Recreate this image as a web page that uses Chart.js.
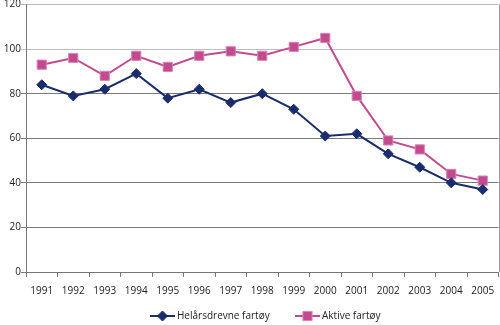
<!DOCTYPE html>
<html>
<head>
<meta charset="utf-8">
<script src="https://cdn.jsdelivr.net/npm/chart.js@4.4.1/dist/chart.umd.min.js"></script>
<style>
  html, body { margin: 0; padding: 0; background: #fff; }
  #frame { width: 500px; height: 325px; position: relative; overflow: hidden; }
  #wrap { width: 506px; height: 327px; position: absolute; left: 0; top: -3px; }
</style>
</head>
<body>
<div id="frame"><div id="wrap"><canvas id="chart"></canvas></div></div>
<script>
const years = ["1991", "1992", "1993", "1994", "1995", "1996", "1997", "1998", "1999", "2000", "2001", "2002", "2003", "2004", "2005"]
const helarsdrevne = [84, 79, 82, 89, 78, 82, 76, 80, 73, 61, 62, 53, 47, 40, 37]
const aktive = [93, 96, 88, 97, 92, 97, 99, 97, 101, 105, 79, 59, 55, 44, 41]
const yTicks = [0, 20, 40, 60, 80, 100, 120]

const FONT = "'Open Sans', 'Noto Sans', sans-serif"
const SHIFT_Y = 3 // canvas sits 3px above the page top

// legend (line + marker + text) and the right frame line
const extras = {
  id: "extras",
  afterDraw(chart) {
    const { ctx, chartArea } = chart
    ctx.save()
    ctx.strokeStyle = "#9a9a9a"
    ctx.lineWidth = 1
    ctx.beginPath()
    ctx.moveTo(Math.round(chartArea.right) + 0.5, chartArea.top)
    ctx.lineTo(Math.round(chartArea.right) + 0.5, chartArea.bottom)
    ctx.stroke()

    const items = [
      { ds: chart.data.datasets[0], x: 150 },
      { ds: chart.data.datasets[1], x: 295 },
    ]
    const y = 316 + SHIFT_Y
    ctx.font = "10px " + FONT
    ctx.textBaseline = "middle"
    items.forEach(({ ds, x }) => {
      ctx.strokeStyle = ds.borderColor
      ctx.lineWidth = 2
      ctx.beginPath()
      ctx.moveTo(x, y)
      ctx.lineTo(x + 25, y)
      ctx.stroke()
      ctx.fillStyle = ds.pointBackgroundColor
      ctx.strokeStyle = ds.pointBorderColor
      ctx.lineWidth = 1
      Chart.helpers.drawPoint(ctx, {
        pointStyle: ds.pointStyle,
        radius: ds.pointRadius,
        borderWidth: 1,
      }, x + 12.5, y)
      ctx.fillStyle = "#222"
      ctx.fillText(ds.label, x + 27, y)
    })
    ctx.restore()
  },
}

new Chart(document.getElementById("chart"), {
  type: "line",
  data: {
    labels: years,
    datasets: [
      {
        label: "Helårsdrevne fartøy",
        data: helarsdrevne,
        borderColor: "#1b2c6c",
        backgroundColor: "#1b2c6c",
        pointBackgroundColor: "#1b2c6c",
        pointBorderColor: "#1b2c6c",
        pointStyle: "rectRot",
        pointRadius: 5,
        pointBorderWidth: 1,
        borderWidth: 2,
        tension: 0,
      },
      {
        label: "Aktive fartøy",
        data: aktive,
        borderColor: "#c24a8f",
        backgroundColor: "#c24a8f",
        pointBackgroundColor: "#c24a8f",
        pointBorderColor: "#d985b5",
        pointStyle: "rect",
        pointRadius: 6.5,
        pointBorderWidth: 1,
        borderWidth: 2,
        tension: 0,
      },
    ],
  },
  options: {
    responsive: true,
    maintainAspectRatio: false,
    animation: false,
    layout: { padding: { top: 0, right: 1, bottom: 19, left: 0 } },
    plugins: {
      legend: { display: false },
      tooltip: { enabled: false },
    },
    scales: {
      x: {
        offset: true,
        grid: {
          offset: true,
          drawOnChartArea: false,
          drawTicks: true,
          tickLength: 5,
          color: "#777",
        },
        border: { color: "#777" },
        ticks: {
          color: "#222",
          font: { family: FONT, size: 10 },
          padding: 8,
          maxRotation: 0,
          autoSkip: false,
        },
      },
      y: {
        min: 0,
        max: 120,
        afterBuildTicks: (scale) => {
          scale.ticks = yTicks.map((v) => ({ value: v }))
        },
        afterFit: (scale) => {
          scale.width = 26
        },
        grid: {
          color: (c) => (c.tick && c.tick.value >= 100 ? "#bdbdbd" : "#7a7a7a"),
          tickLength: 5,
          lineWidth: 1,
        },
        border: { color: "#777" },
        ticks: {
          color: "#222",
          font: { family: FONT, size: 10 },
          padding: 0,
        },
      },
    },
  },
  plugins: [extras],
})
</script>
</body>
</html>
